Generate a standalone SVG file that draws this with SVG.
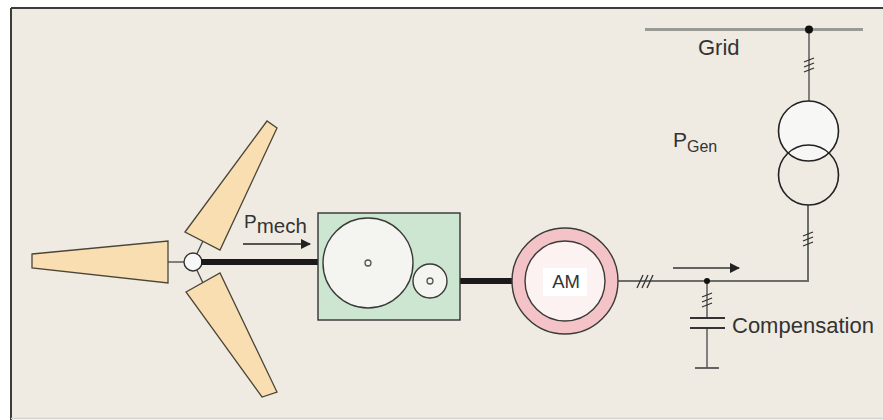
<svg xmlns="http://www.w3.org/2000/svg" width="883" height="420" viewBox="0 0 883 420">
  <style>
    .blade { fill: #f8deb0; stroke: #4a4538; stroke-width: 1.3; }
    .thin { stroke: #444; stroke-width: 1.3; fill: none; }
    .wire { stroke: #6e6e68; stroke-width: 2; fill: none; }
    .shaft { stroke: #1a1a1a; stroke-width: 6; }
    .gear { fill: #f4f5f0; stroke: #3a3a38; stroke-width: 1.4; }
    .tick { stroke: #333; stroke-width: 1.3; }
    .lbl { font-family: "Liberation Sans", Arial, sans-serif; fill: #333; }
  </style>
  <defs>
    <marker id="arr" viewBox="0 0 10 10" refX="9" refY="5" markerWidth="7" markerHeight="7" orient="auto">
      <path d="M0,0 L10,5 L0,10 z" fill="#222"/>
    </marker>
  </defs>

  <!-- panel -->
  <rect x="0" y="0" width="883" height="420" fill="#ffffff"/>
  <rect x="11" y="8" width="872" height="410" fill="#efebe2"/>
  <line x1="11" y1="8" x2="883" y2="8" stroke="#3c3c3a" stroke-width="2"/>
  <line x1="11" y1="8" x2="11" y2="420" stroke="#3c3c3a" stroke-width="2"/>
  <line x1="11" y1="418.5" x2="883" y2="418.5" stroke="#d4d4cf" stroke-width="1.5"/>

  <!-- rotor -->
  <g id="rotor">
    <line class="thin" x1="168" y1="262" x2="184" y2="262"/>
    <line class="thin" x1="193" y1="262" x2="203" y2="241"/>
    <line class="thin" x1="193" y1="262" x2="203" y2="283"/>
    <polygon class="blade" points="32,254 168,241 168,283 32,268"/>
    <polygon class="blade" points="185,232 267,121 277,128 220,250"/>
    <polygon class="blade" points="186,292 220,273 277,392 262,397"/>
    <circle cx="193" cy="262" r="9" fill="#f7f7f7" stroke="#333" stroke-width="1.4"/>
  </g>

  <!-- connectors: shafts and wires -->
  <g id="connectors">
    <line class="shaft" x1="201" y1="262" x2="324" y2="262"/>
    <line class="shaft" x1="446" y1="281" x2="529" y2="281"/>
    <polyline class="wire" points="618,281 808,281 808,205"/>
    <line class="thin" x1="809" y1="29" x2="809" y2="101"/>
    <line class="thin" x1="707" y1="281" x2="707" y2="318"/>
    <line class="thin" x1="707" y1="328" x2="707" y2="368"/>
  </g>

  <!-- mechanical power label -->
  <g id="pmech">
    <text class="lbl" x="244" y="228" font-size="19">P<tspan font-size="20.5" dy="5">mech</tspan></text>
    <line x1="243" y1="244" x2="310" y2="244" stroke="#222" stroke-width="1.5" marker-end="url(#arr)"/>
  </g>

  <!-- gearbox -->
  <g id="gearbox">
    <rect x="318" y="213" width="142" height="107" fill="#cde6d2" stroke="#333" stroke-width="1.4"/>
    <circle class="gear" cx="368" cy="263" r="45"/>
    <circle class="gear" cx="430" cy="281" r="17"/>
    <circle cx="368" cy="263" r="3" fill="none" stroke="#555" stroke-width="1.3"/>
    <circle cx="430" cy="281" r="3" fill="none" stroke="#555" stroke-width="1.3"/>
  </g>

  <!-- asynchronous machine -->
  <g id="machine">
    <circle cx="565" cy="281" r="53" fill="#f4c3c8" stroke="#3a3a38" stroke-width="1.4"/>
    <circle cx="565" cy="281" r="40" fill="#fbf2f1" stroke="#3a3a38" stroke-width="1.4"/>
    <rect x="543" y="268" width="44" height="28" fill="#ffffff"/>
    <text class="lbl" x="566" y="288" font-size="18.5" text-anchor="middle">AM</text>
  </g>

  <!-- three-phase ticks on the cable -->
  <g id="ticks-cable">
    <line class="tick" x1="637" y1="288" x2="643" y2="275"/>
    <line class="tick" x1="642" y1="288" x2="648" y2="275"/>
    <line class="tick" x1="647" y1="288" x2="653" y2="275"/>
  </g>

  <!-- power flow arrow -->
  <g id="flow">
    <line x1="673" y1="268" x2="739" y2="268" stroke="#333" stroke-width="1.5" marker-end="url(#arr)"/>
  </g>

  <!-- compensation capacitor -->
  <g id="compensation">
    <circle cx="707" cy="281" r="3" fill="#111"/>
    <line class="tick" x1="702" y1="297" x2="712" y2="293"/>
    <line class="tick" x1="702" y1="302" x2="712" y2="298"/>
    <line class="tick" x1="702" y1="307" x2="712" y2="303"/>
    <line x1="690" y1="318" x2="725" y2="318" stroke="#333" stroke-width="1.8"/>
    <line x1="690" y1="328" x2="725" y2="328" stroke="#333" stroke-width="1.8"/>
    <line x1="695" y1="368" x2="719" y2="368" stroke="#555" stroke-width="1.8"/>
    <text class="lbl" x="732" y="333" font-size="22">Compensation</text>
  </g>

  <!-- grid transformer -->
  <g id="transformer">
    <line class="tick" x1="804" y1="62" x2="814" y2="58"/>
    <line class="tick" x1="804" y1="67" x2="814" y2="63"/>
    <line class="tick" x1="804" y1="72" x2="814" y2="68"/>
    <circle cx="808.5" cy="131" r="30" fill="#f7f7f5" stroke="#222" stroke-width="1.6"/>
    <circle cx="808.5" cy="175" r="30" fill="none" stroke="#222" stroke-width="1.6"/>
    <line class="tick" x1="803" y1="236" x2="813" y2="232"/>
    <line class="tick" x1="803" y1="241" x2="813" y2="237"/>
    <line class="tick" x1="803" y1="246" x2="813" y2="242"/>
    <text class="lbl" x="673" y="147" font-size="21">P<tspan font-size="16" dy="5">Gen</tspan></text>
  </g>

  <!-- grid bus -->
  <g id="grid">
    <line x1="645" y1="29.5" x2="863" y2="29.5" stroke="#9a9a94" stroke-width="3"/>
    <circle cx="809" cy="29.5" r="4" fill="#111"/>
    <text class="lbl" x="698" y="55" font-size="22">Grid</text>
  </g>
</svg>
